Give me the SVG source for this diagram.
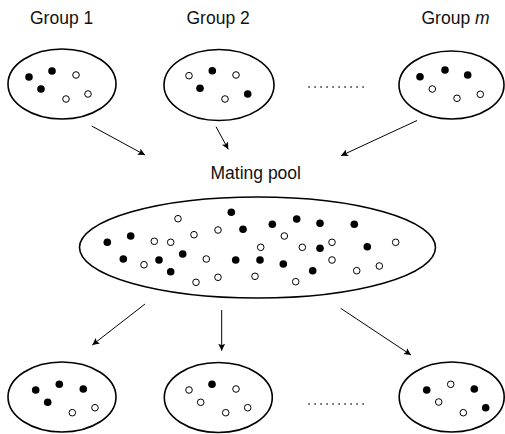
<svg xmlns="http://www.w3.org/2000/svg" width="505" height="434" viewBox="0 0 505 434">
<defs>
<marker id="ah" markerWidth="8" markerHeight="8" refX="7" refY="3.5" orient="auto" markerUnits="userSpaceOnUse">
<path d="M0,0 L7,3.5 L0,7 L1.5,3.5 Z" fill="#000"/>
</marker>
<style>
.el{fill:#fff;stroke:#000;stroke-width:1.6}
.f{fill:#000}
.o{fill:#fff;stroke:#000;stroke-width:1}
.t{font-family:"Liberation Sans",Arial,sans-serif;font-size:17.5px;fill:#111}
.c{stroke:#000;stroke-width:1;fill:none;marker-end:url(#ah)}
.dots{stroke:#333;stroke-width:1.6;stroke-dasharray:1.6 4.4;fill:none}
</style>
</defs>
<rect width="505" height="434" fill="#fff"/>

<text class="t" x="30" y="24">Group 1</text>
<text class="t" x="186.5" y="24">Group 2</text>
<text class="t" x="421.5" y="24">Group <tspan font-style="italic">m</tspan></text>
<text class="t" x="210.5" y="179">Mating pool</text>

<g id="group1">
<ellipse class="el" cx="62" cy="84" rx="54" ry="35"/>
<circle class="f" cx="29" cy="77" r="3.8"/>
<circle class="f" cx="52" cy="71" r="3.8"/>
<circle class="f" cx="41" cy="89" r="3.8"/>
<circle class="o" cx="76" cy="75" r="3.3"/>
<circle class="o" cx="66" cy="99" r="3.3"/>
<circle class="o" cx="88" cy="94" r="3.3"/>
</g>

<g id="group2">
<ellipse class="el" cx="219" cy="85" rx="55" ry="35.5"/>
<circle class="o" cx="189" cy="75.7" r="3.3"/>
<circle class="f" cx="212.3" cy="70.7" r="3.8"/>
<circle class="o" cx="236" cy="75" r="3.3"/>
<circle class="f" cx="200" cy="88.3" r="3.8"/>
<circle class="o" cx="225" cy="99" r="3.3"/>
<circle class="f" cx="247.7" cy="94" r="3.8"/>
</g>

<g id="groupm">
<ellipse class="el" cx="451.5" cy="85" rx="52.5" ry="34"/>
<circle class="f" cx="420" cy="76.7" r="3.8"/>
<circle class="f" cx="445" cy="70" r="3.8"/>
<circle class="f" cx="467.7" cy="75" r="3.8"/>
<circle class="o" cx="432.3" cy="89" r="3.3"/>
<circle class="o" cx="457" cy="98.3" r="3.3"/>
<circle class="o" cx="480.3" cy="94.3" r="3.3"/>
</g>

<g id="pool">
<ellipse class="el" cx="257.5" cy="247.5" rx="178" ry="50.5"/>
<circle class="f" cx="107.3" cy="242.3" r="3.8"/>
<circle class="f" cx="130.7" cy="236" r="3.8"/>
<circle class="f" cx="123.3" cy="259" r="3.8"/>
<circle class="f" cx="159" cy="260" r="3.8"/>
<circle class="f" cx="182.7" cy="254" r="3.8"/>
<circle class="f" cx="170.7" cy="271.7" r="3.8"/>
<circle class="f" cx="231.3" cy="212.3" r="3.8"/>
<circle class="f" cx="243" cy="229.3" r="3.8"/>
<circle class="f" cx="235.7" cy="260" r="3.8"/>
<circle class="f" cx="272.3" cy="224.3" r="3.8"/>
<circle class="f" cx="296.7" cy="219" r="3.8"/>
<circle class="f" cx="320" cy="223.3" r="3.8"/>
<circle class="f" cx="354.3" cy="224.3" r="3.8"/>
<circle class="f" cx="260" cy="260" r="3.8"/>
<circle class="f" cx="283.3" cy="264" r="3.8"/>
<circle class="f" cx="320" cy="248.3" r="3.8"/>
<circle class="f" cx="312.7" cy="270.7" r="3.8"/>
<circle class="f" cx="367.3" cy="246.7" r="3.8"/>
<circle class="o" cx="154.3" cy="241.3" r="3.3"/>
<circle class="o" cx="170.7" cy="242.3" r="3.3"/>
<circle class="o" cx="144" cy="264.7" r="3.3"/>
<circle class="o" cx="178" cy="218.7" r="3.3"/>
<circle class="o" cx="194" cy="234.7" r="3.3"/>
<circle class="o" cx="218" cy="230" r="3.3"/>
<circle class="o" cx="206.3" cy="259" r="3.3"/>
<circle class="o" cx="196" cy="282.3" r="3.3"/>
<circle class="o" cx="218" cy="277.3" r="3.3"/>
<circle class="o" cx="284.3" cy="236" r="3.3"/>
<circle class="o" cx="260.7" cy="247.3" r="3.3"/>
<circle class="o" cx="302.3" cy="247.3" r="3.3"/>
<circle class="o" cx="332" cy="242.3" r="3.3"/>
<circle class="o" cx="332" cy="260" r="3.3"/>
<circle class="o" cx="255" cy="276.3" r="3.3"/>
<circle class="o" cx="295.7" cy="281.7" r="3.3"/>
<circle class="o" cx="356.7" cy="270.7" r="3.3"/>
<circle class="o" cx="379.3" cy="266" r="3.3"/>
<circle class="o" cx="395.7" cy="242.3" r="3.3"/>
</g>

<g id="child1">
<ellipse class="el" cx="62" cy="397" rx="54" ry="35"/>
<circle class="f" cx="35.7" cy="390" r="3.8"/>
<circle class="f" cx="59.3" cy="384.3" r="3.8"/>
<circle class="f" cx="83.3" cy="389" r="3.8"/>
<circle class="f" cx="47.7" cy="402.3" r="3.8"/>
<circle class="o" cx="72.3" cy="412.7" r="3.3"/>
<circle class="o" cx="95" cy="407.7" r="3.3"/>
</g>

<g id="child2">
<ellipse class="el" cx="218.3" cy="397.5" rx="54" ry="35"/>
<circle class="f" cx="212" cy="384.3" r="3.8"/>
<circle class="o" cx="189" cy="390" r="3.3"/>
<circle class="o" cx="236" cy="389" r="3.3"/>
<circle class="o" cx="200.7" cy="402.3" r="3.3"/>
<circle class="o" cx="225.7" cy="412.7" r="3.3"/>
<circle class="o" cx="247.7" cy="407.7" r="3.3"/>
</g>

<g id="childm">
<ellipse class="el" cx="451.7" cy="397" rx="52.5" ry="35"/>
<circle class="f" cx="426.7" cy="390" r="3.8"/>
<circle class="f" cx="474.3" cy="389" r="3.8"/>
<circle class="f" cx="485.7" cy="407.7" r="3.8"/>
<circle class="o" cx="450.7" cy="384.3" r="3.3"/>
<circle class="o" cx="438.7" cy="402" r="3.3"/>
<circle class="o" cx="463.3" cy="412.7" r="3.3"/>
</g>

<g id="connectors">
<line class="c" x1="91.7" y1="126" x2="145" y2="155"/>
<line class="c" x1="216" y1="126.7" x2="228.3" y2="149.3"/>
<line class="c" x1="417" y1="120.5" x2="341" y2="155.7"/>
<line class="c" x1="145" y1="304" x2="92.3" y2="345"/>
<line class="c" x1="221.7" y1="310" x2="221.7" y2="350.7"/>
<line class="c" x1="340.7" y1="308.3" x2="411" y2="355"/>
<line class="dots" x1="308.3" y1="87" x2="366" y2="87"/>
<line class="dots" x1="308.3" y1="404" x2="366" y2="404"/>
</g>
</svg>
